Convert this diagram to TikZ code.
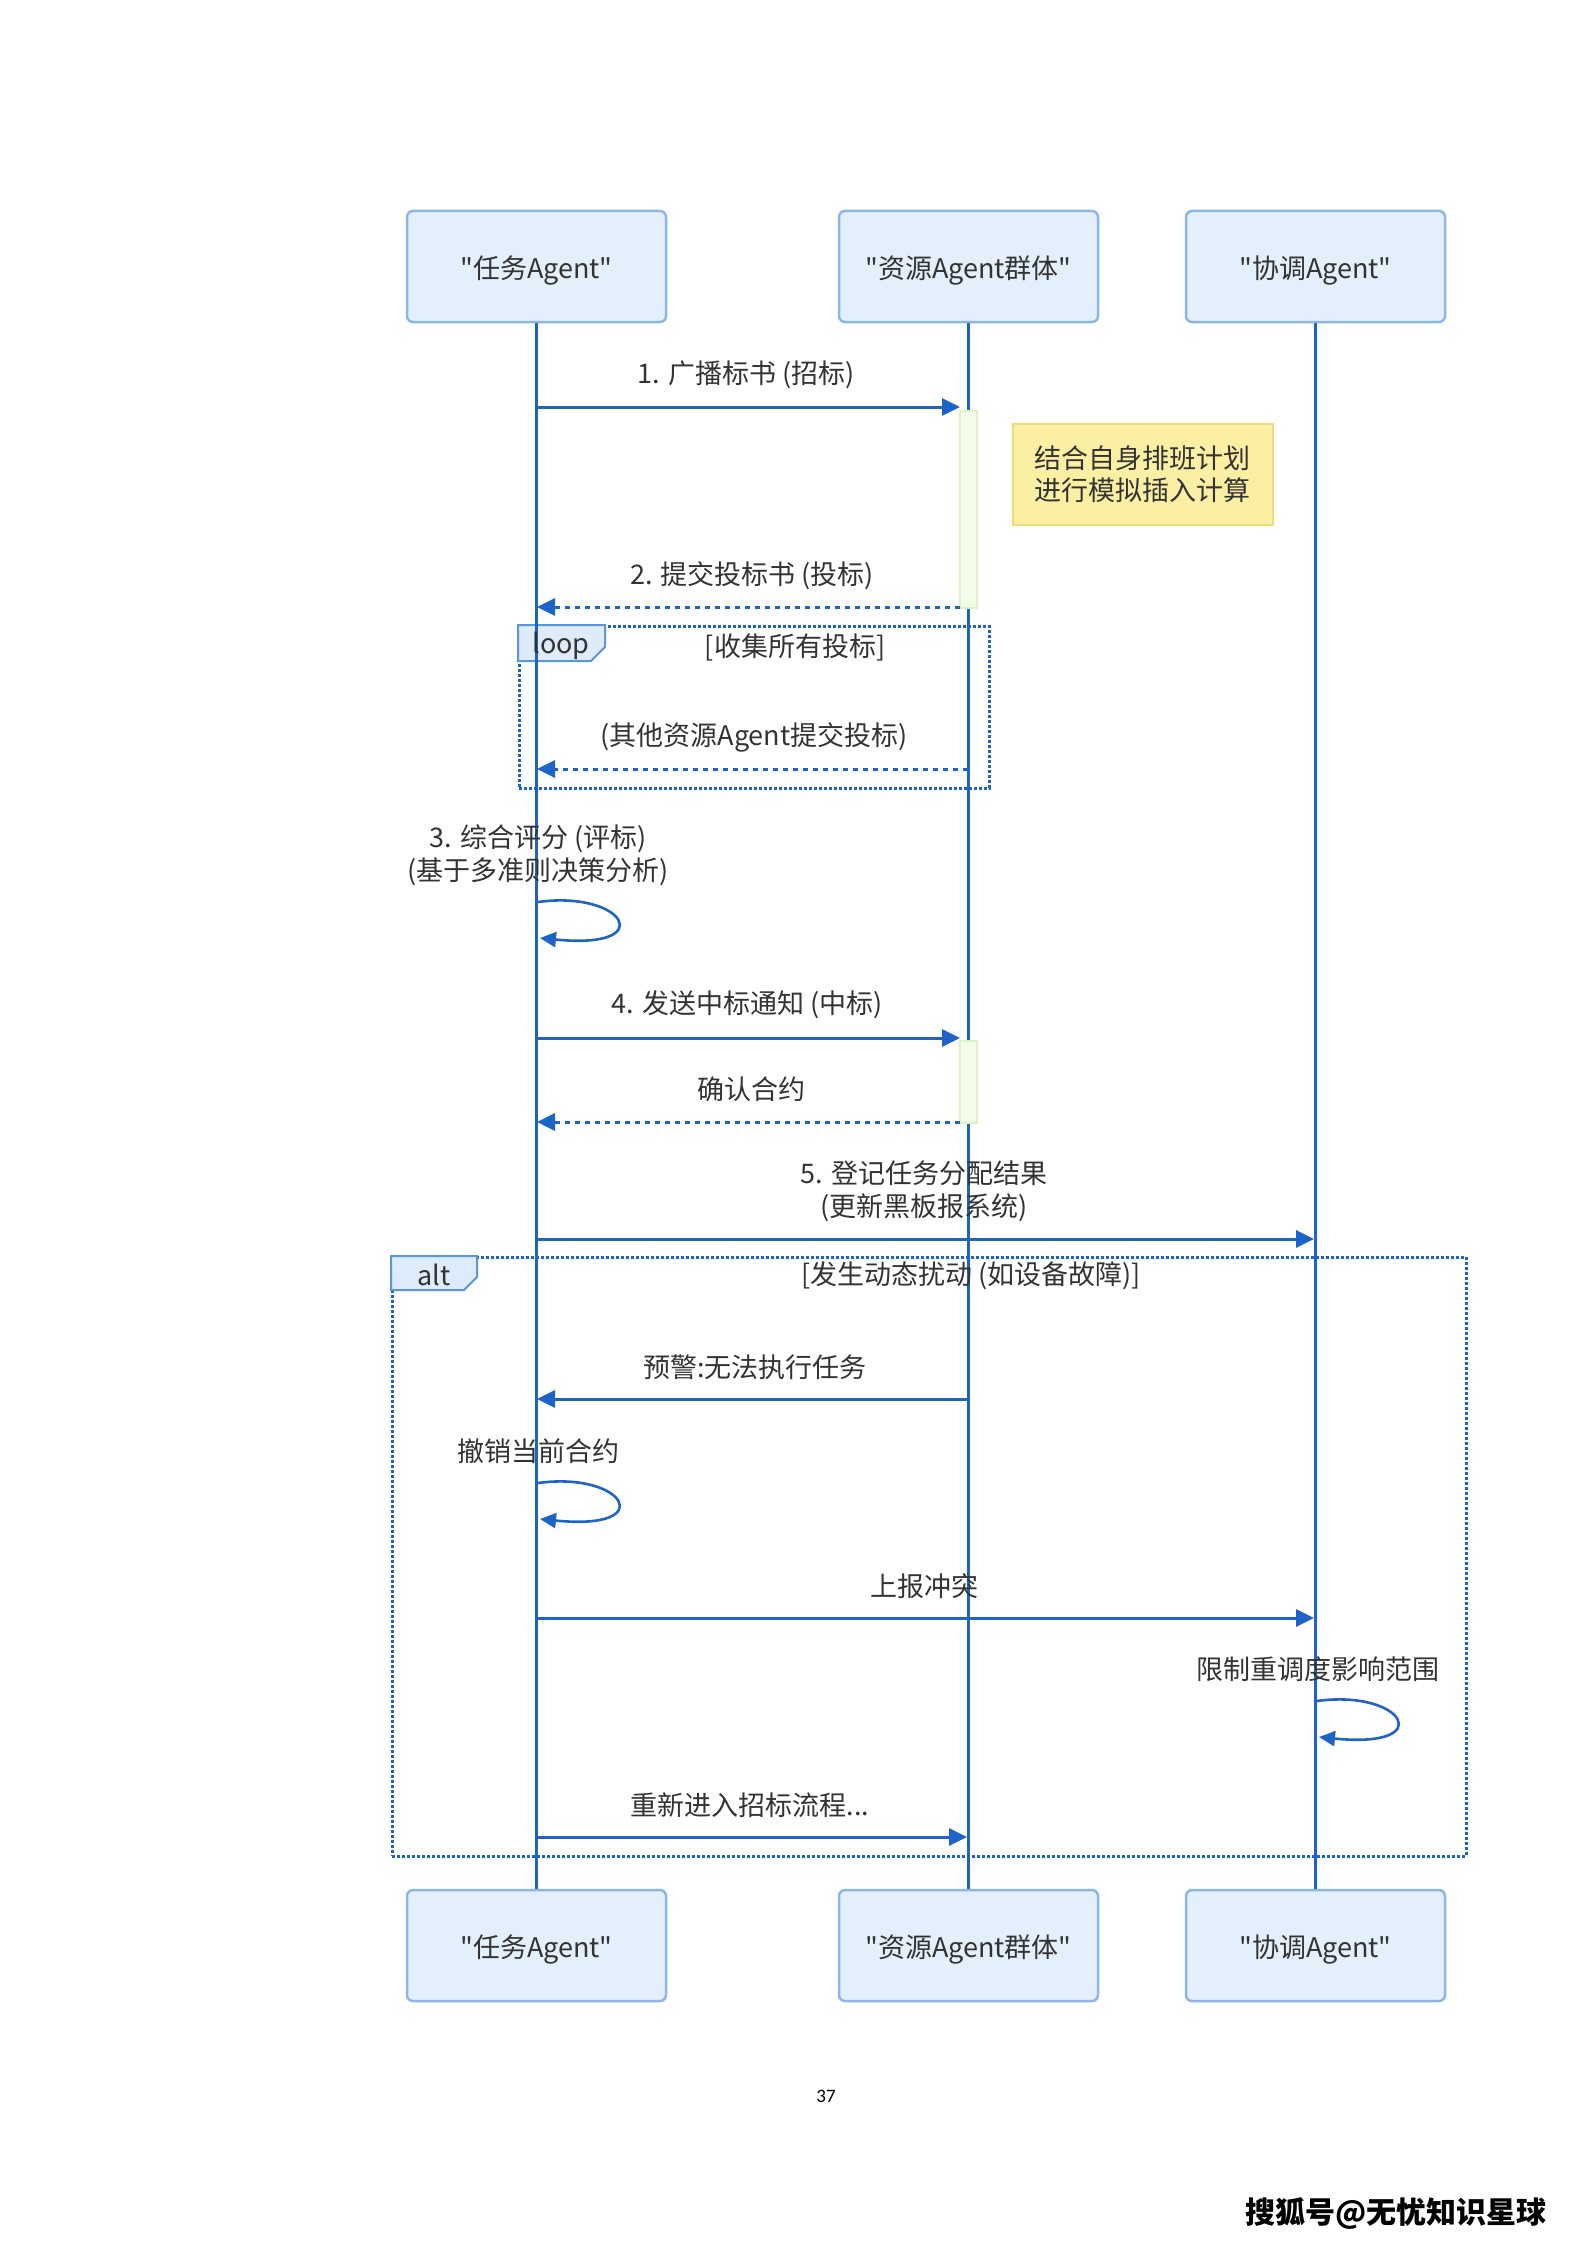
\documentclass[tikz,border=0pt]{standalone}
\usepackage{fontspec}
\setmainfont{Noto Sans CJK SC}[Ligatures=TeXOff]
\newfontfamily\pgnum{Carlito}
\usetikzlibrary{arrows.meta}
\definecolor{lineblue}{HTML}{1E64C8}
\definecolor{boxfill}{HTML}{E3F0FC}
\definecolor{boxdraw}{HTML}{8DB5E8}
\definecolor{tabfill}{HTML}{DDEBFA}
\definecolor{tabdraw}{HTML}{5D95DA}
\definecolor{actfill}{HTML}{F3FCE8}
\definecolor{actdraw}{HTML}{DCF2C3}
\definecolor{notefill}{HTML}{FBEFA3}
\definecolor{notedraw}{HTML}{EEDB7C}
\definecolor{txt}{HTML}{333333}
\newcommand{\lowtxt}[1]{\raisebox{-4pt}[\height][\depth]{#1}}
\begin{document}
\begin{tikzpicture}[x=1pt,y=-1pt,
 actor/.style={draw=boxdraw, fill=boxfill, line width=2.5pt, rounded corners=6pt, minimum width=259pt, minimum height=111pt, inner sep=0pt, font=\fontsize{27}{32}\selectfont, text=txt},
 lifeline/.style={draw=lineblue, line width=2.6pt},
 msg/.style={draw=lineblue, line width=3pt, -{Triangle[length=18pt,width=17pt]}},
 reply/.style={msg, dash pattern=on 5pt off 5pt},
 lbl/.style={font=\fontsize{27}{33}\selectfont, text=txt, inner sep=0pt, align=center},
 frame/.style={draw=lineblue, line width=2.6pt, dash pattern=on 3pt off 2pt, inner sep=0pt, anchor=north west},
 tab/.style={draw=tabdraw, fill=tabfill, line width=2pt},
 act/.style={draw=actdraw, fill=actfill, line width=2pt, minimum width=17pt, inner sep=0pt, anchor=north},
 selfmsg/.style={draw=lineblue, line width=2.6pt, -{Triangle[length=16pt,width=15pt]}}
]
\useasboundingbox (0,0) rectangle (1587,2245);

% frames
\node[frame, minimum width=470pt, minimum height=162pt] (loopF) at (518,625) {};
\node[frame, minimum width=1074pt, minimum height=599pt] (altF) at (391,1256) {};
\draw[tab] (518,625) -- (605,625) -- (605,647) -- (591,661) -- (518,661) -- cycle;
\draw[tab] (391,1256) -- (477,1256) -- (477,1277) -- (464,1290) -- (391,1290) -- cycle;

% actors
\node[actor] (tA) at (536.5,266.5) {\lowtxt{"任务Agent"}};
\node[actor] (rA) at (968.5,266.5) {\lowtxt{"资源Agent群体"}};
\node[actor] (cA) at (1315.5,266.5) {\lowtxt{"协调Agent"}};
\node[actor] (tB) at (536.5,1945.5) {\lowtxt{"任务Agent"}};
\node[actor] (rB) at (968.5,1945.5) {\lowtxt{"资源Agent群体"}};
\node[actor] (cB) at (1315.5,1945.5) {\lowtxt{"协调Agent"}};

% lifelines
\draw[lifeline] (tA) -- (tB);
\draw[lifeline] (rA) -- (rB);
\draw[lifeline] (cA) -- (cB);

% frame texts
\node[lbl] (loopT) at (561,646) {loop};
\node[lbl] (altT) at (434,1275) {alt};
\node[lbl] (loopG) at (795,647) {[收集所有投标]};
\node[lbl] (altG) at (971,1276) {[发生动态扰动 (如设备故障)]};

% activations
\node[act, minimum height=197pt] (act1) at (968.5,410) {};
\node[act, minimum height=82pt] (act2) at (968.5,1040) {};

% note
\node[draw=notedraw, fill=notefill, line width=2pt, minimum width=260pt, minimum height=101pt, inner sep=0pt,
      font=\fontsize{27}{32}\selectfont, align=left, text=txt] (note) at (1142.5,474) {结合自身排班计划\\进行模拟插入计算};

% message coordinates
\coordinate (m1a) at (536,407);   \coordinate (m1b) at (960,407);
\coordinate (m2a) at (960,607);   \coordinate (m2b) at (537,607);
\coordinate (mla) at (968,769);   \coordinate (mlb) at (537,769);
\coordinate (s3a) at (538,902);   \coordinate (s3b) at (540,938);
\coordinate (m4a) at (536,1038);  \coordinate (m4b) at (960,1038);
\coordinate (mca) at (960,1122);  \coordinate (mcb) at (537,1122);
\coordinate (m5a) at (536,1239);  \coordinate (m5b) at (1314,1239);
\coordinate (mwa) at (968,1399);  \coordinate (mwb) at (537,1399);
\coordinate (sxa) at (538,1483);  \coordinate (sxb) at (540,1519);
\coordinate (mra) at (536,1618);  \coordinate (mrb) at (1314,1618);
\coordinate (sya) at (1317,1701); \coordinate (syb) at (1319,1737);
\coordinate (mna) at (536,1837);  \coordinate (mnb) at (967,1837);

% messages
\draw[msg] (m1a) -- (m1b);
\draw[reply] (m2a) -- (m2b);
\draw[reply] (mla) -- (mlb);
\draw[selfmsg] (s3a) .. controls (625,890) and (660,950) .. (s3b);
\draw[msg] (m4a) -- (m4b);
\draw[reply] (mca) -- (mcb);
\draw[msg] (m5a) -- (m5b);
\draw[msg] (mwa) -- (mwb);
\draw[selfmsg] (sxa) .. controls (625,1471) and (660,1531) .. (sxb);
\draw[msg] (mra) -- (mrb);
\draw[selfmsg] (sya) .. controls (1404,1689) and (1439,1749) .. (syb);
\draw[msg] (mna) -- (mnb);

% labels
\node[lbl] (l1) at (746,375) {1. 广播标书 (招标)};
\node[lbl] (l2) at (752,576) {2. 提交投标书 (投标)};
\node[lbl] (ll) at (754,737) {(其他资源Agent提交投标)};
\node[lbl] (l3) at (538,855) {3. 综合评分 (评标)\\(基于多准则决策分析)};
\node[lbl] (l4) at (747,1005) {4. 发送中标通知 (中标)};
\node[lbl] (lc) at (751,1089) {确认合约};
\node[lbl] (l5) at (924,1191) {5. 登记任务分配结果\\(更新黑板报系统)};
\node[lbl] (lw) at (755,1367) {预警:无法执行任务};
\node[lbl] (lx) at (538,1451) {撤销当前合约};
\node[lbl] (lr) at (924,1586) {上报冲突};
\node[lbl] (ly) at (1318,1669) {限制重调度影响范围};
\node[lbl] (ln) at (750,1805) {重新进入招标流程...};

% page furniture
\node[font=\pgnum\fontsize{19}{22}\selectfont, inner sep=0pt] (pg) at (826,2096) {37};
\node[font=\bfseries\fontsize{30}{34}\selectfont, inner sep=0pt, anchor=east] (ft) at (1547,2213) {搜狐号@无忧知识星球};
\end{tikzpicture}
\end{document}
